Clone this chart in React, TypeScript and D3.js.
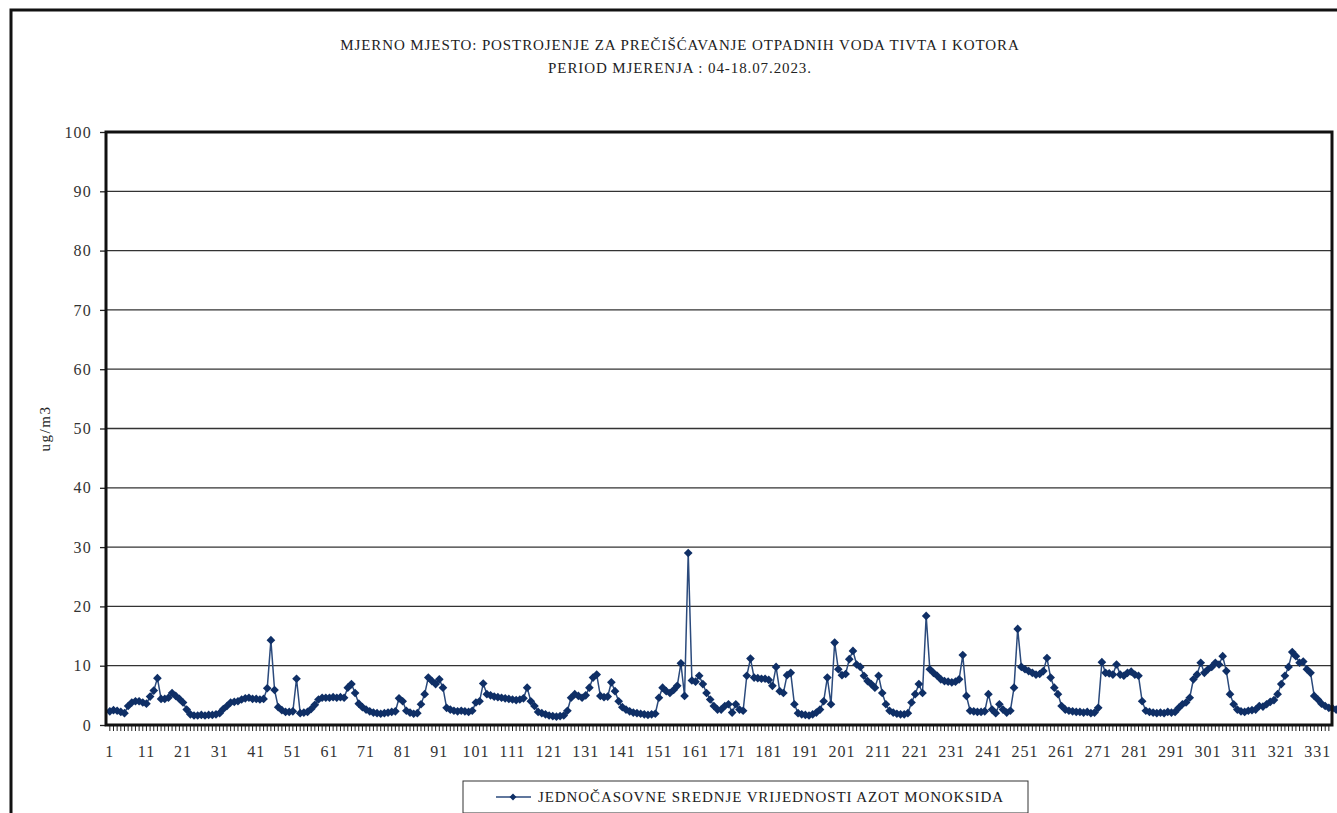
import { FC, useEffect, useRef } from 'react';
import * as d3 from 'd3';

const titleLines = [
  'MJERNO MJESTO: POSTROJENJE ZA PREČIŠĆAVANJE OTPADNIH VODA TIVTA I KOTORA',
  'PERIOD MJERENJA : 04-18.07.2023.',
];
const legendLabel = 'JEDNOČASOVNE SREDNJE VRIJEDNOSTI AZOT MONOKSIDA';
const yLabel = 'ug/m3';

// hourly NO values, ug/m3
const values: number[] = [
  2.3, 2.5, 2.4, 2.2, 2.0, 3.2, 3.8, 4.0, 4.0, 3.8,
  3.6, 4.8, 5.8, 7.9, 4.4, 4.4, 4.6, 5.4, 4.9, 4.4,
  3.8, 2.6, 1.8, 1.6, 1.6, 1.7, 1.6, 1.7, 1.7, 1.8,
  2.0, 2.7, 3.2, 3.8, 3.9, 4.0, 4.3, 4.5, 4.6, 4.4,
  4.4, 4.3, 4.4, 6.2, 14.3, 5.9, 3.0, 2.5, 2.2, 2.2,
  2.3, 7.8, 2.0, 2.1, 2.2, 2.7, 3.4, 4.3, 4.6, 4.6,
  4.6, 4.7, 4.6, 4.7, 4.6, 6.3, 6.9, 5.4, 3.6, 3.0,
  2.6, 2.3, 2.1, 2.0, 1.9, 2.0, 2.1, 2.2, 2.3, 4.5,
  4.0, 2.4, 2.1, 1.9, 2.0, 3.5, 5.2, 8.0, 7.4, 6.9,
  7.7, 6.3, 2.9, 2.6, 2.4, 2.3, 2.4, 2.3, 2.2, 2.4,
  3.8, 4.0, 7.0, 5.2, 5.0, 4.8, 4.7, 4.6, 4.5, 4.4,
  4.3, 4.2, 4.3, 4.5, 6.3, 4.0, 3.2, 2.2, 2.0, 1.8,
  1.6, 1.5, 1.4, 1.5, 1.6, 2.4, 4.6, 5.2, 4.9, 4.6,
  5.0, 6.3, 8.0, 8.5, 4.9, 4.7, 4.8, 7.2, 5.7, 4.0,
  3.0, 2.6, 2.3, 2.1, 2.0, 1.9, 1.8, 1.7, 1.8, 1.9,
  4.6, 6.3, 5.7, 5.4, 5.9, 6.6, 10.4, 4.9, 29.0, 7.5,
  7.3, 8.3, 6.9, 5.4, 4.3, 3.2, 2.6, 2.6, 3.2, 3.5,
  2.1, 3.5, 2.6, 2.4, 8.3, 11.2, 8.0, 7.9, 7.8, 7.8,
  7.6, 6.6, 9.8, 5.7, 5.4, 8.4, 8.8, 3.5, 2.0, 1.8,
  1.7, 1.6, 1.8, 2.1, 2.6, 4.0, 8.0, 3.5, 13.9, 9.4,
  8.4, 8.6, 11.1, 12.5, 10.2, 9.8, 8.3, 7.4, 6.9, 6.3,
  8.3, 5.4, 3.5, 2.4, 2.1, 1.9, 1.8, 1.8, 2.0, 3.8,
  5.2, 6.9, 5.4, 18.4, 9.4, 8.8, 8.3, 7.7, 7.4, 7.3,
  7.2, 7.3, 7.7, 11.8, 4.9, 2.4, 2.3, 2.2, 2.2, 2.3,
  5.2, 2.6, 2.0, 3.5, 2.6, 2.1, 2.4, 6.3, 16.2, 9.8,
  9.4, 9.1, 8.8, 8.5, 8.6, 9.1, 11.3, 8.0, 6.3, 5.2,
  3.2, 2.6, 2.4, 2.3, 2.2, 2.2, 2.1, 2.2, 2.0, 2.1,
  2.9, 10.6, 8.8, 8.7, 8.5, 10.2, 8.5, 8.3, 8.8, 9.0,
  8.5, 8.3, 4.0, 2.4, 2.2, 2.1, 2.0, 2.1, 2.0, 2.2,
  2.1, 2.2, 2.9, 3.5, 3.8, 4.6, 7.7, 8.5, 10.5, 8.8,
  9.4, 9.8, 10.5, 10.2, 11.6, 9.1, 5.2, 3.5, 2.6, 2.3,
  2.2, 2.4, 2.5, 2.6, 3.2, 3.1, 3.5, 3.9, 4.2, 5.2,
  6.9, 8.3, 9.8, 12.3, 11.6, 10.5, 10.7, 9.4, 8.8, 4.9,
  4.3, 3.6, 3.2, 2.9, 2.8, 2.6,
];
const hours: number[] = values.map((_, i) => i + 1);
const yTicks = [0, 10, 20, 30, 40, 50, 60, 70, 80, 90, 100];
const xTickLabels = d3.range(1, 332, 10);

const FONT = '"Liberation Serif", "Times New Roman", serif';
const LINE = '#2b4a7c';
const MARK = '#0f2f66';

const App: FC = () => {
  const ref = useRef<SVGSVGElement | null>(null);

  useEffect(() => {
    const svg = d3.select(ref.current);
    svg.selectAll('*').remove();

    const W = 1337;
    const H = 813;
    const plot = { left: 106, top: 132, right: 1332, bottom: 725 };

    svg.append('rect').attr('width', W).attr('height', H).attr('fill', 'white');

    // outer frame
    svg.append('path')
      .attr('d', `M11,${H} V10 H${W}`)
      .attr('fill', 'none')
      .attr('stroke', '#111')
      .attr('stroke-width', 3);

    svg.append('g')
      .selectAll('text')
      .data(titleLines)
      .enter()
      .append('text')
      .attr('x', 680)
      .attr('y', (d, i) => 50 + i * 23)
      .attr('text-anchor', 'middle')
      .attr('font-family', FONT)
      .attr('font-size', 15)
      .attr('letter-spacing', 0.9)
      .attr('fill', '#222')
      .text(d => d);

    // the scanned chart runs its categories a little past the visible right border
    const x = d3.scaleBand<number>()
      .domain(hours)
      .range([plot.left + 2, plot.right + 6]);
    const y = d3.scaleLinear().domain([0, 100]).range([plot.bottom, plot.top]);

    // gridlines
    svg.append('g')
      .selectAll('line')
      .data(yTicks.filter(t => t > 0))
      .enter()
      .append('line')
      .attr('x1', plot.left)
      .attr('x2', plot.right)
      .attr('y1', d => y(d))
      .attr('y2', d => y(d))
      .attr('stroke', '#333')
      .attr('stroke-width', 1.3);

    const yAxis = svg.append('g')
      .attr('transform', `translate(${plot.left},0)`)
      .call(d3.axisLeft(y).tickValues(yTicks).tickSize(6).tickPadding(8));
    yAxis.select('.domain').remove();
    yAxis.selectAll('.tick line').attr('stroke', '#222').attr('stroke-width', 1.3);
    yAxis.selectAll('text')
      .attr('font-family', FONT)
      .attr('font-size', 16)
      .attr('letter-spacing', 1.2)
      .attr('fill', '#333');

    const xAxis = svg.append('g')
      .attr('transform', `translate(0,${plot.bottom})`)
      .call(
        d3.axisBottom(x)
          .tickValues(hours.filter(h => (x(h) as number) + x.bandwidth() / 2 < plot.right))
          .tickSize(6)
          .tickPadding(15)
          .tickFormat(d => (xTickLabels.includes(d as number) ? String(d) : ''))
      );
    xAxis.select('.domain').remove();
    xAxis.selectAll('.tick line').attr('stroke', '#222').attr('stroke-width', 1);
    xAxis.selectAll('text')
      .attr('font-family', FONT)
      .attr('font-size', 16)
      .attr('letter-spacing', 1)
      .attr('fill', '#333');

    const cx = (d: number) => (x(d) as number) + x.bandwidth() / 2;
    const line = d3.line<number>()
      .x((d, i) => cx(hours[i]))
      .y(d => y(d));

    svg.append('path')
      .datum(values)
      .attr('d', line)
      .attr('fill', 'none')
      .attr('stroke', LINE)
      .attr('stroke-width', 1.5);

    // Excel style diamond: a square turned 45 degrees
    const diamond = d3.symbol().type(d3.symbolDiamond2).size(48);
    svg.append('g')
      .selectAll('path')
      .data(values)
      .enter()
      .append('path')
      .attr('d', diamond)
      .attr('transform', (d, i) => `translate(${cx(hours[i])},${y(d)})`)
      .attr('fill', MARK);

    // plot border
    svg.append('rect')
      .attr('x', plot.left)
      .attr('y', plot.top)
      .attr('width', plot.right - plot.left)
      .attr('height', plot.bottom - plot.top)
      .attr('fill', 'none')
      .attr('stroke', '#111')
      .attr('stroke-width', 3);

    svg.append('text')
      .attr('transform', `translate(50,${(plot.top + plot.bottom) / 2}) rotate(-90)`)
      .attr('text-anchor', 'middle')
      .attr('font-family', FONT)
      .attr('font-size', 15)
      .attr('letter-spacing', 1.5)
      .attr('fill', '#222')
      .text(yLabel);

    // legend
    const lg = svg.append('g').attr('transform', 'translate(463,781)');
    lg.append('rect')
      .attr('width', 565)
      .attr('height', 32)
      .attr('fill', 'white')
      .attr('stroke', '#333')
      .attr('stroke-width', 1);
    lg.append('line')
      .attr('x1', 33).attr('x2', 68).attr('y1', 16).attr('y2', 16)
      .attr('stroke', LINE).attr('stroke-width', 1.5);
    lg.append('path')
      .attr('d', d3.symbol().type(d3.symbolDiamond2).size(30))
      .attr('transform', 'translate(50,16)')
      .attr('fill', MARK);
    lg.append('text')
      .attr('x', 75)
      .attr('y', 21)
      .attr('font-family', FONT)
      .attr('font-size', 15)
      .attr('letter-spacing', 0.9)
      .attr('fill', '#222')
      .text(legendLabel);
  }, []);

  return (
    <svg
      ref={ref}
      width={1337}
      height={813}
      style={{ position: 'absolute', left: 0, top: 0 }}
    />
  );
};

export default App;
